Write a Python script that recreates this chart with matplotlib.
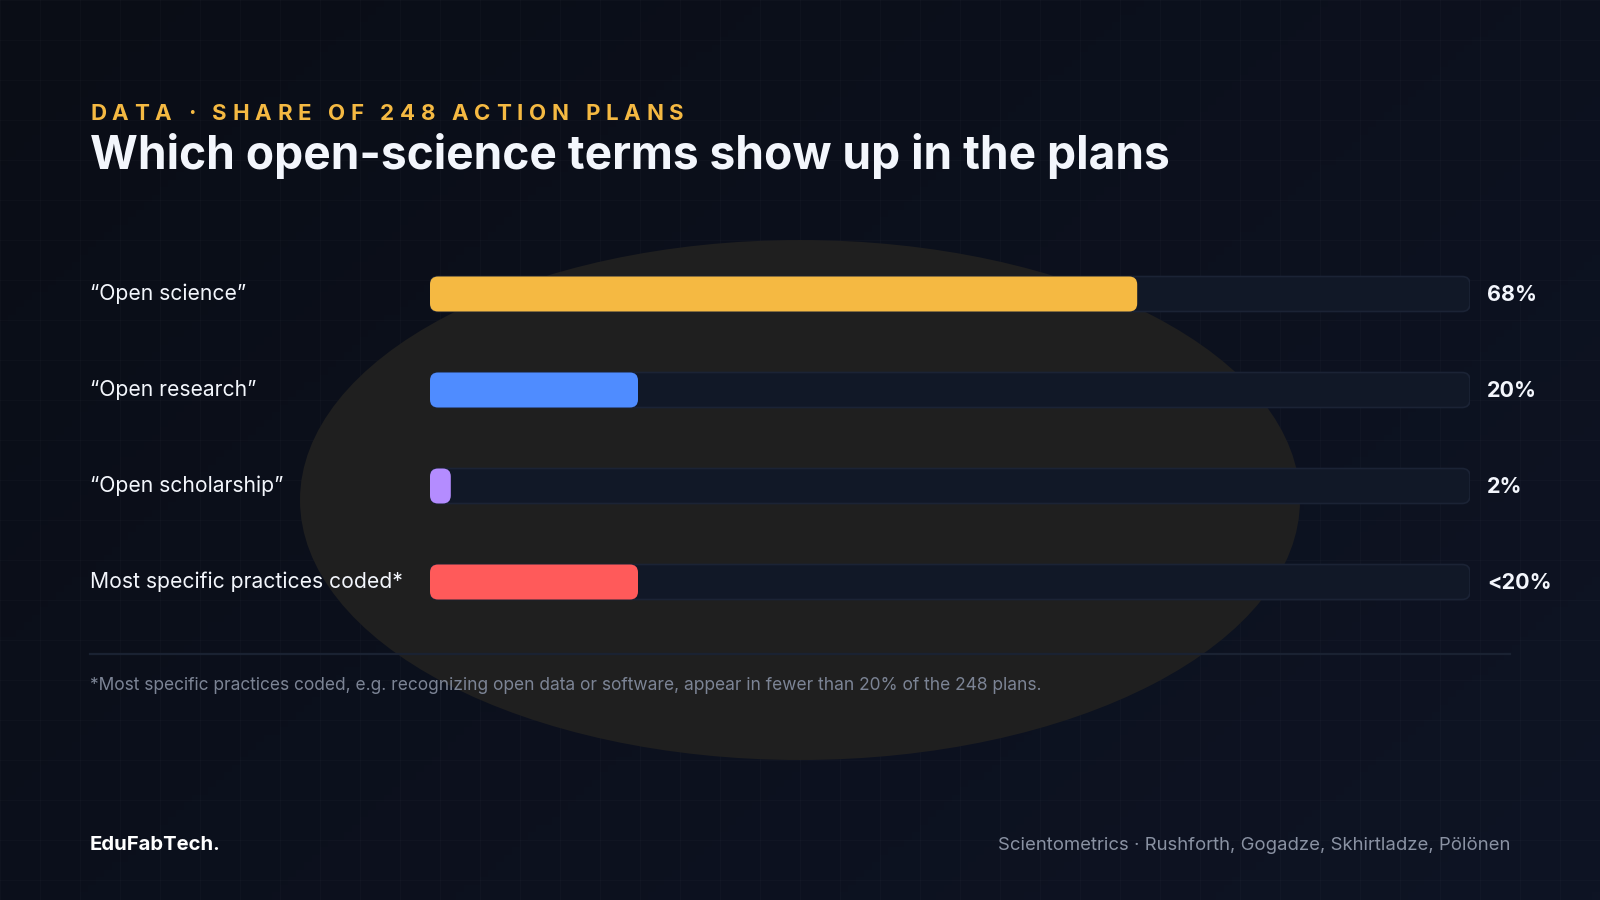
import numpy as np
import matplotlib
matplotlib.use('Agg')
import matplotlib.pyplot as plt
from matplotlib.patches import FancyBboxPatch, Ellipse

plt.rcParams['font.family'] = ['Inter', 'DejaVu Sans']

# --- data ---
categories = ['\u201cOpen science\u201d', '\u201cOpen research\u201d',
              '\u201cOpen scholarship\u201d', 'Most specific practices coded*']
values = [68, 20, 2, 20]
value_labels = ['68%', '20%', '2%', '<20%']
bar_colors = ['#F5B942', '#4F8CFF', '#B48CFF', '#FF5A5A']

kicker = 'DATA \u00b7 SHARE OF 248 ACTION PLANS'
title = 'Which open-science terms show up in the plans'
footnote = ('*Most specific practices coded, e.g. recognizing open data or software, '
            'appear in fewer than 20% of the 248 plans.')
brand = 'EduFabTech.'
source = 'Scientometrics \u00b7 Rushforth, Gogadze, Skhirtladze, P\u00f6l\u00f6nen'

W, H = 1600, 900
fig = plt.figure(figsize=(16, 9), dpi=100)

# background layer in pixel units
bg = fig.add_axes([0, 0, 1, 1])
bg.set_xlim(0, W)
bg.set_ylim(H, 0)
bg.axis('off')
gx, gy = np.meshgrid(np.linspace(0, 1, 200), np.linspace(0, 1, 120))
grad = (gx * 0.6 + gy * 0.4)
c0 = np.array([10, 13, 22]) / 255
c1 = np.array([14, 20, 36]) / 255
img = c0 + (c1 - c0) * grad[..., None]
bg.imshow(img, extent=[0, W, H, 0], aspect='auto', zorder=0)
for g in range(0, W + 1, 40):
    bg.axvline(g, color='white', alpha=0.018, lw=1, zorder=1)
for g in range(0, H + 1, 40):
    bg.axhline(g, color='white', alpha=0.018, lw=1, zorder=1)
bg.add_patch(Ellipse((800, 500), 1000, 520, facecolor='#1f1f1f', edgecolor='none', zorder=2))

# divider
bg.plot([90, 1510], [654, 654], color='#1a2232', lw=1.6, zorder=3)

# kicker with letter spacing
fig.canvas.draw()
renderer = fig.canvas.get_renderer()
kick_kw = dict(fontsize=16, fontweight='bold', color='#F5B942', va='center', ha='left')

def text_w(s):
    t = bg.text(0, 0, s + '|', **kick_kw)
    t2 = bg.text(0, 0, '|', **kick_kw)
    w = t.get_window_extent(renderer).width - t2.get_window_extent(renderer).width
    t.remove()
    t2.remove()
    return w

track = 5.7
x0 = 90
for i, ch in enumerate(kicker):
    if ch != ' ':
        bg.text(x0 + text_w(kicker[:i]) + i * track, 114, ch, zorder=5, **kick_kw)

bg.text(90, 156, title, fontsize=33.2, fontweight='bold', color='#F3F6FC',
        va='center', ha='left', zorder=5)

bg.text(90, 686, footnote, fontsize=12.5, color='#7C8495', va='center', ha='left', zorder=5)
bg.text(90, 845, brand, fontsize=14.6, fontweight='bold', color='#FFFFFF', va='center', ha='left', zorder=5)
bg.text(1510, 845, source, fontsize=13.35, color='#8A92A3', va='center', ha='right', zorder=5)

# bar axes: x from 430 to 1470 px, rows 96 px apart centred at 294..582
left_px, right_px = 430, 1470
row_px = 96
top_row, n = 294, len(categories)
y_top = top_row - row_px / 2
y_bot = top_row + (n - 0.5) * row_px
ax = fig.add_axes([left_px / W, 1 - y_bot / H, (right_px - left_px) / W, (y_bot - y_top) / H])
ax.set_xlim(0, 100)
ax.set_ylim(n - 0.5, -0.5)
ax.axis('off')
ax.patch.set_alpha(0)

px_x = (right_px - left_px) / 100
aspect = px_x / row_px
bar_h = 35 / row_px
rad = 8 / px_x

for i, (cat, v, lab, col) in enumerate(zip(categories, values, value_labels, bar_colors)):
    ax.add_patch(FancyBboxPatch((0, i - bar_h / 2), 100, bar_h,
                                boxstyle=f'round,pad=0,rounding_size={rad}',
                                mutation_aspect=aspect, facecolor='#111827',
                                edgecolor='#1B2335', lw=1.2, zorder=2))
    ax.add_patch(FancyBboxPatch((0, i - bar_h / 2), v, bar_h,
                                boxstyle=f'round,pad=0,rounding_size={rad}',
                                mutation_aspect=aspect, facecolor=col,
                                edgecolor='none', zorder=3))
    ax.annotate(cat, xy=(0, i), xycoords=('axes fraction', 'data'),
                xytext=(90 - left_px, 0), textcoords='offset pixels',
                fontsize=15.2, color='#F3F6FC', va='center', ha='left', annotation_clip=False)
    ax.annotate(lab, xy=(1, i), xycoords=('axes fraction', 'data'),
                xytext=(1487 - right_px, -1), textcoords='offset pixels',
                fontsize=15.5, fontweight='bold', color='#F3F6FC', va='center', ha='left',
                annotation_clip=False)

fig.savefig('out.png', dpi=100, facecolor='#0A0D16')
